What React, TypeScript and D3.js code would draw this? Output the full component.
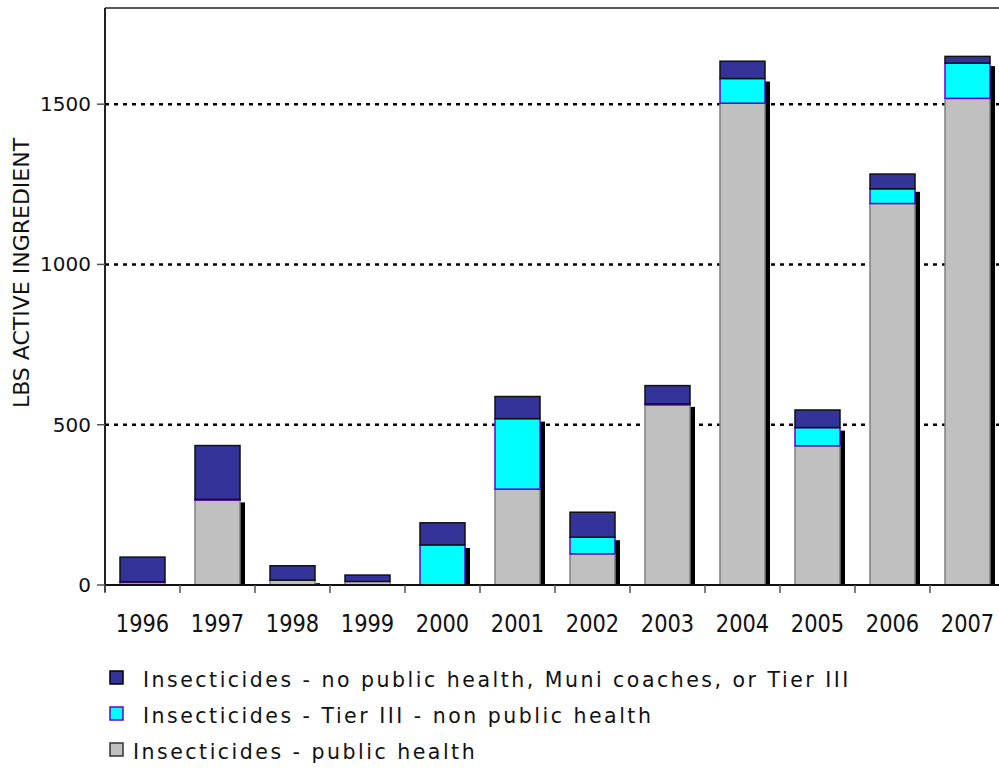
import { useMemo } from 'react';
import * as d3 from 'd3';

const years = ['1996', '1997', '1998', '1999', '2000', '2001', '2002', '2003', '2004', '2005', '2006', '2007'];
const publicHealth = [8, 265, 15, 11, 0, 299, 97, 562, 1503, 434, 1190, 1518];
const tierThree = [2, 2, 0, 0, 125, 220, 52, 3, 77, 57, 46, 110];
const otherUse = [77, 168, 45, 20, 69, 69, 78, 57, 54, 55, 46, 21];
const yTicks = [0, 500, 1000, 1500];
const gridValues = [500, 1000, 1500];

const legendItems = [
  { label: 'Insecticides - no public health, Muni coaches, or Tier III', fill: '#333399', stroke: '#000', dx: 33 },
  { label: 'Insecticides - Tier III - non public health', fill: '#00ffff', stroke: '#6600cc', dx: 33 },
  { label: 'Insecticides - public health', fill: '#c0c0c0', stroke: '#333', dx: 23 },
];

const WIDTH = 999;
const HEIGHT = 768;
const LEFT = 105;
const RIGHT = 1005;
const TOP = 8;
const BOTTOM = 585;
const FONT = 'DejaVu Sans, Verdana, sans-serif';

export default function App() {
  const x = useMemo(
    () => d3.scaleBand<string>().domain(years).range([LEFT, RIGHT]).paddingInner(0.4).paddingOuter(0.2),
    [],
  );
  const y = useMemo(() => d3.scaleLinear().domain([0, 1800]).range([BOTTOM, TOP]), []);

  const stacked = useMemo(() => {
    const rows = years.map((yr, i) => ({ yr, ph: publicHealth[i], t3: tierThree[i], oth: otherUse[i] }));
    return d3.stack<any>().keys(['ph', 't3', 'oth'])(rows);
  }, []);

  const fills = ['#c0c0c0', '#00ffff', '#333399'];
  const strokes = ['#808080', '#6600cc', '#111'];
  const bw = x.bandwidth();
  const step = x.step();

  return (
    <svg width={WIDTH} height={HEIGHT} style={{ position: 'absolute', left: 0, top: 0, background: '#fff' }}>
      {/* gridlines */}
      {gridValues.map((v) => (
        <line key={v} x1={LEFT} x2={RIGHT} y1={y(v)} y2={y(v)} stroke="#000" strokeWidth={2.5} strokeDasharray="4 5" />
      ))}
      {/* frame top */}
      <line x1={LEFT} x2={RIGHT} y1={TOP} y2={TOP} stroke="#222" strokeWidth={1.5} />

      {/* shadows behind lower two series */}
      <defs>
        <clipPath id="plotClip">
          <rect x={LEFT} y={TOP} width={RIGHT - LEFT} height={BOTTOM - TOP} />
        </clipPath>
      </defs>
      <g clipPath="url(#plotClip)">
        {years.map((yr, i) => {
          const top = y(publicHealth[i] + tierThree[i]);
          return (
            <rect key={yr} x={(x(yr) ?? 0) + 5} y={top + 3} width={bw} height={Math.max(0, BOTTOM - top)} fill="#000" />
          );
        })}
      </g>

      {/* stacked bars */}
      {stacked.map((layer, li) => (
        <g key={layer.key}>
          {layer.map((d, i) => {
            const h = y(d[0]) - y(d[1]);
            if (h <= 0) return null;
            return (
              <rect
                key={years[i]}
                x={x(years[i])}
                y={y(d[1])}
                width={bw}
                height={h}
                fill={fills[li]}
                stroke={strokes[li]}
                strokeWidth={1.5}
              />
            );
          })}
        </g>
      ))}

      {/* y axis */}
      <line x1={LEFT} x2={LEFT} y1={TOP} y2={BOTTOM + 7} stroke="#222" strokeWidth={2} />
      {yTicks.map((t) => (
        <g key={t}>
          <line x1={LEFT - 8} x2={LEFT} y1={y(t)} y2={y(t)} stroke="#555" strokeWidth={1.5} />
          <text x={LEFT - 14} y={y(t) + 7} textAnchor="end" fontFamily={FONT} fontSize={20} fill="#111">
            {t}
          </text>
        </g>
      ))}
      <text
        transform={`translate(29, 273) rotate(-90)`}
        textAnchor="middle"
        fontFamily={FONT}
        fontSize={22}
        fill="#111"
      >
        LBS ACTIVE INGREDIENT
      </text>

      {/* x axis */}
      <line x1={LEFT} x2={RIGHT} y1={BOTTOM} y2={BOTTOM} stroke="#111" strokeWidth={2} />
      {years.map((yr) => {
        const b = (x(yr) ?? 0) - x.paddingOuter() * step;
        const cx = (x(yr) ?? 0) + bw / 2;
        return (
          <g key={yr}>
            <line x1={b} x2={b} y1={BOTTOM} y2={BOTTOM + 8} stroke="#555" strokeWidth={1.5} />
            <text
              transform={`translate(${cx}, 632) scale(1, 1.18)`}
              textAnchor="middle"
              fontFamily={FONT}
              fontSize={21}
              fill="#111"
            >
              {yr}
            </text>
          </g>
        );
      })}

      {/* legend */}
      {legendItems.map((it, i) => {
        const ry = 671 + i * 36;
        return (
          <g key={it.label}>
            <rect x={110} y={ry} width={13} height={13} fill={it.fill} stroke={it.stroke} strokeWidth={1.5} />
            <text x={110 + it.dx} y={ry + 16} fontFamily={FONT} fontSize={20.5} letterSpacing={2.5} fill="#111">
              {it.label}
            </text>
          </g>
        );
      })}
    </svg>
  );
}
